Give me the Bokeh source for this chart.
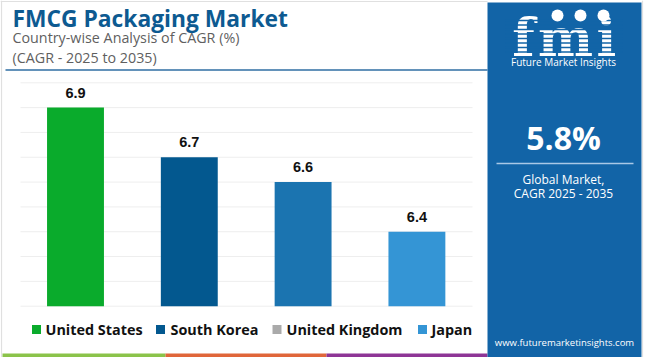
from bokeh.plotting import figure
from bokeh.models import Range1d
from bokeh.core.properties import value
from bokeh.embed import file_html
from bokeh.resources import INLINE

# ---------------- data ----------------
countries = ["United States", "South Korea", "United Kingdom", "Japan"]
cagr = [6.9, 6.7, 6.6, 6.4]
bar_colors = ["#0aab2c", "#03588f", "#1b74b0", "#3495d5"]
legend_colors = ["#0aab2c", "#03588f", "#aaaaaa", "#3495d5"]
grid_values = [6.1, 6.2, 6.3, 6.4, 6.5, 6.6, 6.7, 6.8, 6.9, 7.0]
title_text = "FMCG Packaging Market"
subtitle_1 = "Country-wise Analysis of CAGR (%)"
subtitle_2 = "(CAGR - 2025 to 2035)"
global_cagr = "5.8%"
global_label_1 = "Global Market,"
global_label_2 = "CAGR 2025 - 2035"
brand_name = "Future Market Insights"
logo_letters = ["f", "m", "i"]
website = "www.futuremarketinsights.com"

# ---------------- layout (pixels) ----------------
W, H = 650, 357
PLOT_L, PLOT_R = 18.1, 473.3
Y_TOP, Y_BOT = 82.3, 305.7
spacing = (PLOT_R - PLOT_L) / len(countries)
x_start = -0.5 - PLOT_L / spacing
x_end = x_start + W / spacing
ppu = (Y_BOT - Y_TOP) / (grid_values[-1] - grid_values[0])
y_start = grid_values[0] - (H - Y_BOT) / ppu
y_end = grid_values[-1] + Y_TOP / ppu

p = figure(width=W, height=H, x_range=Range1d(x_start, x_end),
           y_range=Range1d(y_start, y_end), output_backend="svg",
           toolbar_location=None, min_border=0, outline_line_color=None,
           x_axis_location=None, y_axis_location=None)
p.grid.visible = False
p.background_fill_color = "white"
p.border_fill_color = "white"
p.extra_x_ranges = {"px": Range1d(0, W)}
p.extra_y_ranges = {"px": Range1d(H, 0)}

PX = dict(x_range_name="px", y_range_name="px")
SANS = value("Open Sans")
ARIAL = value("Liberation Sans")

# ---- light frame border ----
p.segment(x0=[0, 1, 642], y0=[1, 0, 0], x1=[487, 1, 642], y1=[1, H, H],
          line_color="#e0e0e0", line_width=1.2, **PX)

# ---- title block ----
p.text(x=[12], y=[17.5], text=[title_text], text_font=SANS, text_font_style="bold",
       text_font_size="22.8px", text_color="#0d5a91", text_baseline="middle", **PX)
p.text(x=[12], y=[36.5], text=[subtitle_1], text_font=SANS,
       text_font_size="14.3px", text_color="#5f5f5f", text_baseline="middle", **PX)
p.text(x=[12], y=[57], text=[subtitle_2], text_font=SANS,
       text_font_size="14.3px", text_color="#5f5f5f", text_baseline="middle", **PX)
p.segment(x0=[5], y0=[69.5], x1=[487], y1=[69.5], line_color="#2f6ea3",
          line_width=1.5, **PX)

# ---- grid lines ----
p.segment(x0=[20] * len(grid_values), y0=grid_values,
          x1=[472] * len(grid_values), y1=grid_values,
          line_color="#eeeeee", line_width=1, x_range_name="px")

# ---- bars ----
idx = list(range(len(countries)))
p.vbar(x=idx, top=cagr, bottom=grid_values[0], width=0.5, fill_color=bar_colors,
       line_color=None)
p.text(x=idx, y=cagr, text=[f"{v:.1f}" for v in cagr], y_offset=-15,
       text_font=ARIAL, text_font_style="bold", text_font_size="14.5px",
       text_color="#111111", text_align="center", text_baseline="middle")

# ---- legend ----
legend_sq_x = [36, 160, 276.5, 422]
legend_tx_x = [45, 170, 286, 431]
LEG_Y = 329
p.scatter(x=legend_sq_x, y=[LEG_Y] * 4, marker="square", size=9,
          fill_color=legend_colors, line_color=None, **PX)
p.text(x=legend_tx_x, y=[LEG_Y] * 4, text=countries, text_font=SANS,
       text_font_style="bold", text_font_size="14.4px", text_color="#111111",
       text_baseline="middle", **PX)

# ---- bottom colour strip ----
p.quad(left=[2, 165, 326], right=[165, 326, 487], top=[353] * 3, bottom=[357] * 3,
       fill_color=["#8bc34a", "#e0663a", "#8e3596"], line_color=None, **PX)

# ---- right panel ----
PANEL = "#1264a7"
p.quad(left=[487], right=[641], top=[2], bottom=[H], fill_color=PANEL,
       line_color=None, **PX)
p.text(x=[523, 565, 606], y=[37, 37, 37], text=logo_letters,
       text_font=value("DejaVu Serif"), text_font_style="bold",
       text_font_size="52px", text_color="white", text_align="center",
       text_baseline="middle", **PX)
stripe_y = [20 + 4.5 * k for k in range(8)]
p.segment(x0=[505] * len(stripe_y), y0=stripe_y, x1=[622] * len(stripe_y),
          y1=stripe_y, line_color=PANEL, line_width=1.3, **PX)
p.scatter(x=[557, 580, 603], y=[15, 15, 15], marker="circle", size=12,
          fill_color="white", line_color=None, **PX)
p.text(x=[563], y=[61], text=[brand_name], text_font=SANS, text_font_size="10px",
       text_color="white", text_align="center", text_baseline="middle", **PX)
p.text(x=[563], y=[137], text=[global_cagr], text_font=SANS, text_font_style="bold",
       text_font_size="32px", text_color="white", text_align="center",
       text_baseline="middle", **PX)
p.segment(x0=[496], y0=[163], x1=[633], y1=[163], line_color="#a9c8e6",
          line_width=1.5, **PX)
p.text(x=[563, 563], y=[179, 193], text=[global_label_1, global_label_2],
       text_font=SANS, text_font_size="12px", text_color="white",
       text_align="center", text_baseline="middle", **PX)
p.text(x=[564], y=[342], text=[website], text_font=SANS, text_font_size="9.5px",
       text_color="white", text_align="center", text_baseline="middle", **PX)

open("out.html", "w").write(file_html(p, INLINE))
